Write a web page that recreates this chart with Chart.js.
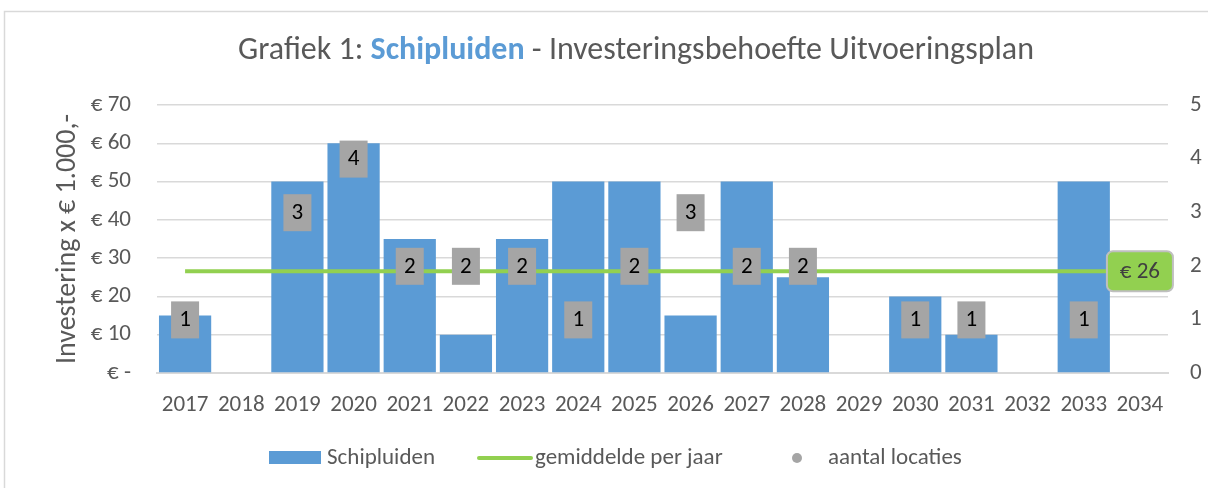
<!DOCTYPE html>
<html>
<head>
<meta charset="utf-8">
<script src="https://cdn.jsdelivr.net/npm/chart.js@4.4.1/dist/chart.umd.min.js"></script>
<style>
  body { margin: 0; background: #fff; }
  #wrap { width: 1208px; height: 488px; position: relative; }
</style>
</head>
<body>
<div id="wrap"><canvas id="myChart"></canvas></div>
<script>
let jaren = ['2017', '2018', '2019', '2020', '2021', '2022', '2023', '2024', '2025', '2026', '2027', '2028', '2029', '2030', '2031', '2032', '2033', '2034'];
let investering = [15, 0, 50, 60, 35, 10, 35, 50, 50, 15, 50, 25, 0, 20, 10, 0, 50, 0];
let aantalLocaties = [1, null, 3, 4, 2, 2, 2, 1, 2, 3, 2, 2, null, 1, 1, null, 1, null];
let gemiddelde = 26.56;
let gemiddeldeLijn = jaren.map(() => gemiddelde);

let fontFam = "Carlito, Calibri, Lato, sans-serif";
let grijsTekst = '#595959';

// titel, legenda, kader en labels zelf tekenen
const decor = {
  id: 'decor',
  afterDatasetsDraw(chart) {
    const ctx = chart.ctx;
    const meta = chart.getDatasetMeta(2);
    ctx.save();
    ctx.font = '23px ' + fontFam;
    ctx.textAlign = 'center';
    ctx.textBaseline = 'middle';
    meta.data.forEach((pt, i) => {
      if (aantalLocaties[i] == null) return;
      ctx.fillStyle = '#A5A5A5';
      ctx.fillRect(pt.x - 14, pt.y - 18, 28, 37);
      ctx.fillStyle = '#000';
      ctx.fillText(String(aantalLocaties[i]), pt.x, pt.y + 1);
    });

    // label gemiddelde
    const last = chart.getDatasetMeta(1).data[jaren.length - 1];
    const w = 66, h = 40;
    ctx.beginPath();
    ctx.roundRect(last.x - w / 2, last.y - h / 2, w, h, 6);
    ctx.fillStyle = '#92D050';
    ctx.fill();
    ctx.lineWidth = 2;
    ctx.strokeStyle = '#BFBFBF';
    ctx.stroke();
    ctx.fillStyle = '#404040';
    ctx.font = '23px ' + fontFam;
    ctx.fillText('€ ' + Math.floor(gemiddelde), last.x, last.y + 1);
    ctx.restore();
  },
  afterDraw(chart) {
    const ctx = chart.ctx;
    ctx.save();
    // kader
    ctx.strokeStyle = '#D9D9D9';
    ctx.lineWidth = 1.5;
    ctx.beginPath();
    ctx.moveTo(4.5, 488);
    ctx.lineTo(4.5, 11.5);
    ctx.lineTo(1208, 11.5);
    ctx.stroke();

    // titel
    const parts = [
      ['Grafiek 1: ', grijsTekst, ''],
      ['Schipluiden', '#5B9BD5', 'bold '],
      [' - Investeringsbehoefte Uitvoeringsplan', grijsTekst, '']
    ];
    let total = 0;
    parts.forEach(p => { ctx.font = p[2] + '32px ' + fontFam; total += ctx.measureText(p[0]).width; });
    let x = 636 - total / 2;
    ctx.textBaseline = 'middle';
    ctx.textAlign = 'left';
    parts.forEach(p => {
      ctx.font = p[2] + '32px ' + fontFam;
      ctx.fillStyle = p[1];
      ctx.fillText(p[0], x, 51);
      x += ctx.measureText(p[0]).width;
    });

    // legenda
    const ly = 458;
    ctx.font = '23px ' + fontFam;
    ctx.fillStyle = '#5B9BD5';
    ctx.fillRect(269, ly - 7, 52, 13);
    ctx.fillStyle = grijsTekst;
    ctx.fillText(chart.data.datasets[0].label, 327, ly);

    ctx.strokeStyle = '#92D050';
    ctx.lineWidth = 4;
    ctx.lineCap = 'round';
    ctx.beginPath();
    ctx.moveTo(479, ly);
    ctx.lineTo(531, ly);
    ctx.stroke();
    ctx.fillText(chart.data.datasets[1].label, 535, ly);

    ctx.fillStyle = '#A5A5A5';
    ctx.beginPath();
    ctx.arc(797, ly, 5, 0, Math.PI * 2);
    ctx.fill();
    ctx.fillStyle = grijsTekst;
    ctx.fillText(chart.data.datasets[2].label, 828, ly);
    ctx.restore();
  }
};

let ctx = document.getElementById('myChart').getContext('2d');

let myChart = new Chart(ctx, {
  type: 'bar',
  data: {
    labels: jaren,
    datasets: [{
      label: 'Schipluiden',
      data: investering,
      backgroundColor: '#5B9BD5',
      borderWidth: 0,
      barPercentage: 0.93,
      categoryPercentage: 1,
      yAxisID: 'y',
      order: 3
    }, {
      type: 'line',
      label: 'gemiddelde per jaar',
      data: gemiddeldeLijn,
      borderColor: '#92D050',
      borderWidth: 4,
      pointRadius: 0,
      fill: false,
      yAxisID: 'y',
      order: 2
    }, {
      type: 'line',
      label: 'aantal locaties',
      data: aantalLocaties,
      showLine: false,
      pointRadius: 0,
      backgroundColor: '#A5A5A5',
      yAxisID: 'y1',
      order: 1
    }]
  },
  options: {
    responsive: true,
    maintainAspectRatio: false,
    animation: false,
    layout: {
      padding: { top: 105, left: 51, right: 0, bottom: 0 }
    },
    plugins: {
      legend: { display: false },
      tooltip: { enabled: false }
    },
    scales: {
      x: {
        grid: { display: false, drawTicks: false },
        border: { color: '#D9D9D9', width: 2 },
        ticks: {
          color: grijsTekst,
          font: { family: fontFam, size: 23 },
          padding: 18,
          maxRotation: 0,
          autoSkip: false
        },
        afterFit: (scale) => { scale.height = 115; }
      },
      y: {
        position: 'left',
        min: 0,
        max: 70,
        ticks: {
          stepSize: 10,
          color: grijsTekst,
          font: { family: fontFam, size: 23 },
          padding: 26,
          callback: (v) => v === 0 ? '€ -' : '€ ' + v
        },
        grid: { color: '#D9D9D9', lineWidth: 1.5, drawTicks: false },
        border: { display: false },
        title: {
          display: true,
          text: 'Investering x € 1.000,-',
          color: grijsTekst,
          font: { family: fontFam, size: 28 },
          padding: { top: 0, bottom: 0 }
        },
        afterFit: (scale) => { scale.width = 106; }
      },
      y1: {
        position: 'right',
        min: 0,
        max: 5,
        ticks: {
          stepSize: 1,
          color: grijsTekst,
          font: { family: fontFam, size: 23 },
          padding: 22
        },
        grid: { display: false, drawTicks: false },
        border: { display: false },
        afterFit: (scale) => { scale.width = 40; }
      }
    }
  },
  plugins: [decor]
});
</script>
</body>
</html>
